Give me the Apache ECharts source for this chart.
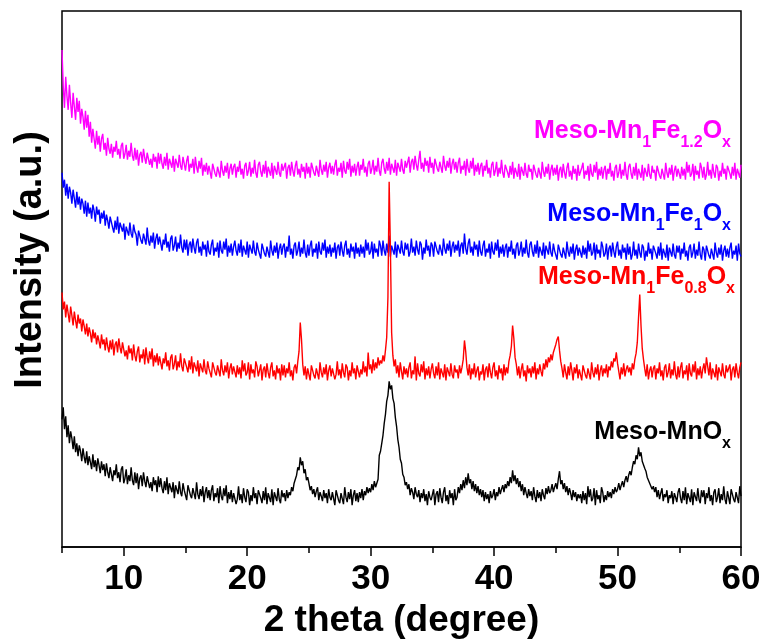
<!DOCTYPE html>
<html><head><meta charset="utf-8">
<script src="https://cdn.jsdelivr.net/npm/echarts@6/dist/echarts.min.js"></script>
<style>html,body{margin:0;padding:0;background:#fff}#c{width:766px;height:644px}</style>
</head><body><div id="c"></div>
<script>
// 2-theta grid: 5.0 .. 60.0 in 0.1 degree steps (551 points per pattern)
const X_START = 5.0;
const X_STEP = 0.1;
const majorTicks = [10, 20, 30, 40, 50, 60];
const minorTicks = [5, 15, 25, 35, 45, 55];

// Intensities (a.u.); one row = 2 degrees (20 points)
const mnFe12 = [
498,462,440,471,452,438,463,445,430,455,441,428,450,436,447,424,439,431,418,437,
420,433,411,426,405,419,409,399,417,403,412,396,409,414,398,405,392,410,399,394,
404,390,401,396,407,393,399,389,402,405,389,394,403,388,397,391,405,392,387,400,
388,398,382,393,396,385,399,390,384,395,397,383,389,380,394,386,391,379,395,384,
394,384,379,391,382,395,378,389,387,380,392,376,389,387,380,393,382,378,391,384,
377,387,392,376,384,380,389,374,391,381,375,387,379,390,372,383,376,385,373,382,
380,369,384,386,374,371,381,383,370,387,377,372,382,375,385,369,379,384,373,381,
384,370,381,376,387,373,379,369,382,385,372,377,386,371,380,374,388,375,370,383,
386,376,371,383,374,387,370,381,379,372,385,369,382,380,373,386,375,371,384,377,
375,385,369,380,383,372,386,377,371,382,387,373,379,370,384,376,381,369,385,374,
381,370,385,387,375,372,382,384,371,388,378,373,383,376,386,370,380,385,374,382,
373,383,388,372,380,376,385,370,387,377,374,386,378,389,371,382,375,384,372,381,
386,372,383,378,389,375,381,371,384,387,374,379,388,373,382,376,390,377,372,385,
389,379,374,386,377,390,373,384,382,375,388,372,385,383,376,389,378,374,387,380,
381,391,375,386,389,378,392,383,377,388,397,379,385,376,390,382,387,375,391,380,
385,374,389,391,379,376,386,388,375,392,382,377,387,380,390,374,384,389,378,386,
375,385,390,374,382,378,387,372,389,379,375,387,379,390,372,383,376,385,373,382,
385,371,382,377,388,374,380,370,383,386,372,377,386,371,380,374,388,375,370,383,
385,375,370,382,373,386,369,380,378,371,384,368,381,379,372,385,374,370,383,376,
379,368,383,385,373,370,380,382,369,386,376,371,381,374,384,368,378,383,372,380,
373,383,367,378,381,370,384,375,369,380,385,371,377,368,382,374,379,367,383,372,
370,380,385,369,377,373,382,367,384,374,371,383,375,386,368,379,372,381,369,378,
382,368,379,374,385,371,377,367,380,383,370,375,384,369,378,372,386,373,368,381,
384,374,369,381,372,385,368,379,377,370,383,367,380,378,371,384,373,369,382,375,
378,367,382,384,372,369,379,381,368,385,375,370,380,373,383,367,377,382,371,379,
378,369,381,372,379,368,386,375,383,371,374,384,367,382,373,377,369,385,380,370,
381,368,373,386,372,378,369,384,375,370,383,380,367,377,371,385,374,379,368,382,
384,374,369,381,372,385,368,379,377,370,383
];
const mnFe10 = [
375,360,368,352,364,349,361,355,344,358,349,340,356,343,351,338,349,344,334,347,
331,345,334,340,329,343,337,326,341,333,338,324,335,329,337,322,333,327,319,331,
330,320,315,327,318,331,314,325,323,316,324,308,321,319,312,325,314,310,323,316,
313,302,317,319,307,304,314,316,303,320,307,302,312,305,315,299,309,314,303,311,
311,297,308,303,314,300,306,296,309,312,297,302,311,296,305,299,313,300,295,308,
298,308,292,303,306,295,309,300,294,305,309,295,301,292,306,298,303,291,307,296,
293,303,308,292,300,296,305,290,307,297,294,306,298,309,291,302,295,304,292,301,
307,297,292,304,295,308,291,302,300,293,306,290,303,301,294,307,296,292,305,298,
300,289,304,306,294,291,301,303,290,307,297,292,302,295,305,289,299,304,293,301,
304,290,301,296,312,293,299,289,302,305,292,297,306,291,300,294,308,295,290,303,
292,302,307,291,299,295,304,289,306,296,293,305,297,308,290,301,294,303,291,300,
295,305,289,300,303,292,306,297,291,302,307,293,299,290,304,296,301,289,305,294,
300,291,303,294,301,290,308,297,305,293,296,306,289,304,295,299,291,307,302,292,
307,297,292,304,295,312,291,302,300,293,306,290,303,301,294,307,296,292,305,298,
304,291,296,309,295,301,292,307,298,293,306,303,288,300,294,308,297,302,291,305,
302,291,306,308,296,293,303,305,292,309,299,294,304,297,307,291,301,306,295,303,
297,307,291,302,305,294,314,299,293,304,309,295,301,292,306,298,303,291,307,296,
292,302,307,291,299,295,304,289,306,296,293,305,297,308,290,301,294,303,291,300,
304,290,301,296,307,293,299,289,302,305,292,297,306,291,300,294,308,295,290,303,
306,296,291,303,294,307,290,301,299,292,305,289,302,300,293,306,295,291,304,297,
299,288,303,305,293,290,300,302,289,306,296,291,301,294,304,288,298,303,292,300,
299,290,302,293,300,289,307,296,304,292,295,305,288,303,294,298,290,306,301,291,
294,304,288,299,302,291,305,296,290,301,306,292,298,289,303,295,300,288,304,293,
301,288,293,306,292,298,289,304,295,290,303,300,287,297,291,305,294,299,288,302,
304,294,289,301,292,305,288,299,297,290,303,287,300,298,291,304,293,289,302,295,
302,288,299,294,305,291,297,287,300,303,290,295,304,289,298,292,306,293,288,301,
298,287,302,304,292,289,299,301,288,305,295,290,300,293,303,287,297,302,291,299,
290,300,305,289,297,293,302,287,304,294,291
];
const mnFe08 = [
255,238,246,230,243,234,225,241,232,222,236,227,219,233,224,229,216,228,221,213,
224,211,220,214,205,218,209,215,203,212,206,199,213,203,208,197,210,201,195,207,
198,208,192,203,206,195,209,200,194,205,205,191,197,188,202,194,199,187,203,192,
186,196,201,185,193,189,198,183,200,190,184,196,188,199,181,192,185,194,182,191,
192,178,189,184,195,181,187,177,190,193,178,183,192,177,186,180,194,181,176,189,
190,180,175,187,178,191,174,185,183,176,187,171,184,182,175,188,177,173,186,179,
181,170,185,187,175,172,182,184,171,188,177,172,182,175,185,169,179,184,173,181,
179,170,182,173,180,169,187,176,184,172,175,185,168,183,174,178,170,186,181,171,
173,183,167,178,181,170,184,175,169,180,185,171,177,168,182,174,179,167,183,172,
182,170,179,174,185,171,177,167,180,183,174,186,196,225,208,183,172,181,168,179,
178,167,182,184,172,169,179,181,168,185,175,170,180,173,183,167,177,182,171,179,
181,168,173,186,172,178,169,184,175,170,183,180,167,177,171,185,174,179,168,182,
184,170,178,173,186,175,181,171,195,178,183,174,188,177,185,179,190,182,187,184,
192,186,197,210,250,366,300,215,192,181,188,174,182,170,185,176,168,181,173,179,
170,180,185,169,177,173,191,167,184,174,171,183,175,186,168,179,172,181,169,178,
184,174,169,181,172,185,168,179,177,170,183,167,180,178,171,184,173,169,182,175,
178,169,182,174,180,188,207,196,180,172,183,168,179,173,184,170,177,181,167,176,
173,183,167,178,181,170,184,175,169,180,185,171,177,168,182,174,179,167,183,172,
180,174,186,192,201,222,209,190,183,172,181,169,178,184,171,177,166,182,174,179,
170,181,174,185,168,179,173,183,176,171,184,178,188,180,190,185,193,187,195,199,
203,208,211,197,186,179,170,183,175,168,181,172,185,177,167,180,174,183,169,178,
178,167,182,184,172,169,179,181,168,185,175,170,180,173,183,167,177,182,171,179,
174,183,170,181,177,186,180,189,186,195,184,176,168,180,173,184,171,178,182,175,
180,172,184,178,188,194,205,230,253,222,199,188,179,171,183,168,177,181,170,179,
182,168,179,174,185,171,177,167,180,183,170,175,184,169,178,172,186,173,168,181,
170,180,185,169,177,173,182,167,184,174,171,183,175,186,168,179,172,181,169,178,
184,174,190,181,172,185,168,179,177,170,183,167,180,178,171,184,173,169,182,175,
173,183,167,178,181,170,184,175,169,180,185
];
const mnOx = [
128,140,118,131,110,122,104,116,109,98,111,95,104,91,102,96,86,99,90,84,
96,82,91,85,78,93,80,87,76,89,82,74,86,77,83,71,84,75,69,80,
80,66,77,72,83,69,75,65,78,81,64,69,78,63,72,66,80,67,62,75,
64,74,58,69,72,61,75,66,60,71,73,59,65,56,70,62,67,55,71,60,
69,59,54,66,57,70,53,64,62,55,65,49,62,60,53,66,55,51,64,57,
58,47,62,64,52,49,59,61,48,65,53,48,58,51,61,45,55,60,49,57,
47,57,62,46,54,50,59,44,61,51,47,59,51,62,44,55,48,57,45,54,
56,43,48,61,47,53,44,59,50,45,58,55,42,52,46,60,49,54,43,57,
59,49,44,56,47,60,43,54,52,45,58,42,55,53,46,59,48,44,57,50,
54,46,57,49,55,52,60,56,64,68,72,80,77,90,82,86,74,78,67,70,
64,57,61,53,58,50,56,60,47,55,51,46,57,49,54,44,58,50,47,55,
53,42,57,59,47,44,54,56,43,60,50,45,55,48,58,42,52,57,46,54,
45,55,49,58,47,56,52,60,54,59,55,63,57,66,60,64,68,92,96,104,
112,124,133,146,152,166,158,162,149,144,130,121,108,100,88,84,73,70,62,65,
58,63,52,59,55,48,60,53,50,57,45,54,49,58,46,53,42,56,50,47,
48,58,42,53,56,45,59,50,44,55,60,46,52,43,57,49,54,42,58,47,
50,60,54,63,57,67,59,70,62,74,64,68,58,66,56,63,54,61,52,58,
50,57,46,55,48,53,44,56,49,52,58,47,55,51,60,53,58,62,55,63,
59,66,61,70,64,77,66,72,63,69,60,66,56,63,52,60,54,49,58,51,
56,47,60,51,45,57,49,55,46,58,52,48,59,53,61,54,57,63,55,60,
64,58,68,76,63,67,58,64,55,61,52,59,54,47,57,50,55,46,53,49,
53,44,56,47,54,43,61,50,58,46,49,59,42,57,48,52,44,60,55,45,
52,47,56,50,55,49,58,53,60,55,58,64,57,62,66,60,67,71,65,72,
76,72,80,86,83,92,88,100,91,95,86,88,79,76,70,72,64,66,58,61,
55,60,50,57,48,54,59,46,53,50,57,44,52,49,56,43,54,50,45,55,
59,49,44,56,47,60,43,54,52,45,58,42,55,53,46,59,48,44,57,50,
57,43,54,49,60,46,52,42,55,58,45,50,59,44,53,47,61,48,43,56,
54,43,58,60,48,45,55,57,44,61,51
];

const seriesNames = ['Meso-MnOx', 'Meso-Mn1Fe1.2Ox', 'Meso-Mn1Fe1Ox', 'Meso-Mn1Fe0.8Ox'];
const seriesColors = ['#000000', '#FF00FF', '#0000FF', '#FF0000'];
const seriesValues = [mnOx, mnFe12, mnFe10, mnFe08];

// label texts as [style, text] fragments (m = main, s = subscript)
const labelDefs = [
  {color:'#000000', parts:[['m','Meso-MnO'],['s','x']], x:731, y:412},
  {color:'#FF00FF', parts:[['m','Meso-Mn'],['s','1'],['m','Fe'],['s','1.2'],['m','O'],['s','x']], x:731, y:111},
  {color:'#0000FF', parts:[['m','Meso-Mn'],['s','1'],['m','Fe'],['s','1'],['m','O'],['s','x']], x:731, y:194},
  {color:'#FF0000', parts:[['m','Meso-Mn'],['s','1'],['m','Fe'],['s','0.8'],['m','O'],['s','x']], x:735, y:257}
];
const xTitle = '2 theta (degree)';
const yTitle = 'Intensity (a.u.)';

const FONT = "'Liberation Sans', Arial, Helvetica, sans-serif";

function toPairs(vals) {
  return vals.map((v, i) => [Math.round((X_START + i * X_STEP) * 10) / 10, v]);
}

function labelGraphic(d) {
  return {
    type: 'text', x: d.x, y: d.y, z: 10,
    style: {
      text: d.parts.map(p => '{' + p[0] + '|' + p[1] + '}').join(''),
      align: 'right', verticalAlign: 'top', fill: d.color,
      rich: {
        m: {fontSize: 25, fontWeight: 'bold', fontFamily: FONT, fill: d.color, lineHeight: 40},
        s: {fontSize: 16, fontWeight: 'bold', fontFamily: FONT, fill: d.color, lineHeight: 16, verticalAlign: 'bottom'}
      }
    }
  };
}

const chart = echarts.init(document.getElementById('c'), null, {renderer: 'canvas'});
const tickStyle = {color: '#000', width: 1.5};
chart.setOption({
  animation: false,
  backgroundColor: '#ffffff',
  grid: {left: 62, right: 25, top: 11, bottom: 96, show: true, borderColor: '#000', borderWidth: 1.5},
  xAxis: [{
    type: 'value', min: 5, max: 60, position: 'bottom',
    axisLine: {show: true, onZero: false, lineStyle: tickStyle},
    axisTick: {show: true, customValues: majorTicks, length: 9, lineStyle: tickStyle},
    axisLabel: {show: true, customValues: majorTicks, margin: 15, fontSize: 35, fontWeight: 'bold', fontFamily: FONT, color: '#000'},
    splitLine: {show: false},
    name: xTitle, nameLocation: 'middle', nameGap: 50,
    nameTextStyle: {fontSize: 37, fontWeight: 'bold', fontFamily: FONT, color: '#000'}
  }, {
    type: 'value', min: 5, max: 60, position: 'bottom',
    axisLine: {show: false, onZero: false},
    axisTick: {show: true, customValues: minorTicks, length: 6, lineStyle: tickStyle},
    axisLabel: {show: false},
    splitLine: {show: false}
  }],
  yAxis: {type: 'value', min: 0, max: 537, show: false},
  series: seriesValues.map((vals, k) => ({
    name: seriesNames[k], type: 'line', xAxisIndex: 0, yAxisIndex: 0,
    data: toPairs(vals), showSymbol: false, symbol: 'none', sampling: null,
    lineStyle: {color: seriesColors[k], width: 1.4}, itemStyle: {color: seriesColors[k]},
    emphasis: {disabled: true}
  })),
  graphic: [
    {type: 'text', x: 31, y: 260, rotation: Math.PI / 2,
     style: {text: yTitle, fontSize: 38, fontWeight: 'bold', fontFamily: FONT, fill: '#000', align: 'center', verticalAlign: 'middle'}}
  ].concat(labelDefs.map(labelGraphic))
});
</script>
</body></html>
